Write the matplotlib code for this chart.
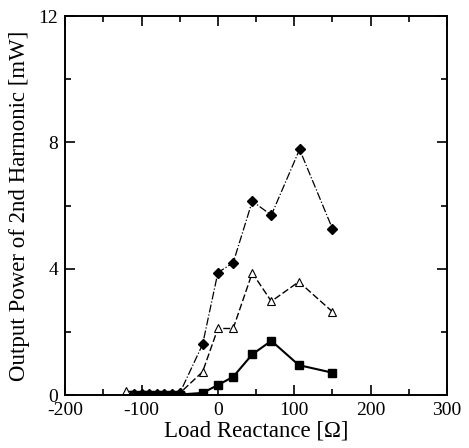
import matplotlib
matplotlib.use("Agg")
import matplotlib.pyplot as plt
from matplotlib.ticker import MultipleLocator

# Load reactance [ohm] and 2nd harmonic output power [mW]
x_diamond = [-110, -100, -90, -80, -70, -60, -50, -20, 0, 20, 45, 70, 107, 150]
y_diamond = [0.03, 0.03, 0.03, 0.03, 0.03, 0.03, 0.06, 1.61, 3.88, 4.19, 6.14, 5.70, 7.78, 5.27]

x_triangle = [-120, -50, -20, 0, 20, 45, 70, 106, 150]
y_triangle = [0.12, 0.06, 0.74, 2.11, 2.11, 3.87, 2.97, 3.59, 2.64]

x_square = [-110, -100, -90, -80, -70, -60, -50, -20, 0, 20, 45, 70, 106, 150]
y_square = [0.02, 0.02, 0.02, 0.02, 0.02, 0.02, 0.02, 0.07, 0.32, 0.58, 1.29, 1.72, 0.95, 0.71]

plt.rcParams["font.family"] = ["Liberation Serif", "DejaVu Serif"]
plt.rcParams["axes.unicode_minus"] = False

fig = plt.figure(figsize=(4.69, 4.48), dpi=100)
ax = fig.add_axes([0.139, 0.118, 0.814, 0.846])

ax.plot(x_diamond, y_diamond, color="black", linestyle="-.", linewidth=0.9,
        marker="D", markersize=5, markerfacecolor="black")
ax.plot(x_triangle, y_triangle, color="black", linestyle=(0, (5, 2)), linewidth=1.0,
        marker="^", markersize=5.5, markerfacecolor="white", markeredgewidth=0.8)
ax.plot(x_square, y_square, color="black", linestyle="-", linewidth=1.5,
        marker="s", markersize=5.5, markerfacecolor="black")

ax.set_xlim(-200, 300)
ax.set_ylim(0, 12)
ax.xaxis.set_major_locator(MultipleLocator(100))
ax.xaxis.set_minor_locator(MultipleLocator(50))
ax.yaxis.set_major_locator(MultipleLocator(4))
ax.yaxis.set_minor_locator(MultipleLocator(2))

ax.tick_params(which="both", direction="in", top=True, right=True, width=1.2,
               labelsize=14)
ax.tick_params(axis="x", pad=5)
ax.tick_params(axis="y", pad=5)
ax.tick_params(which="major", length=7)
ax.tick_params(which="minor", length=4)
for sp in ax.spines.values():
    sp.set_linewidth(1.4)

ax.set_xlabel("Load Reactance [Ω]", fontsize=16.5, labelpad=1)
ax.set_ylabel("Output Power of 2nd Harmonic [mW]", fontsize=16.5, labelpad=6)

fig.savefig("out.png", dpi=100, facecolor="white")
